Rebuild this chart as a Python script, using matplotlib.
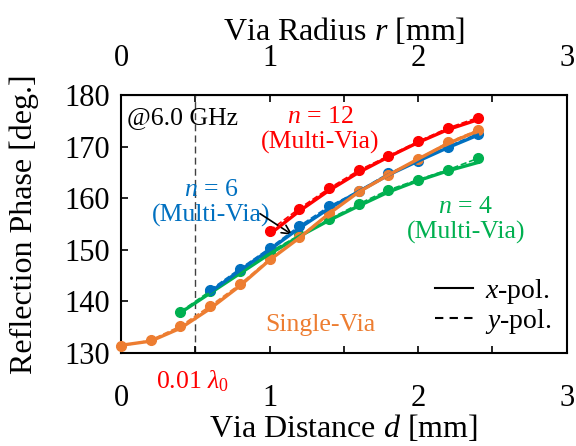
import matplotlib
matplotlib.use("Agg")
import matplotlib.pyplot as plt
from matplotlib.ticker import MultipleLocator
from matplotlib.lines import Line2D

plt.rcParams['font.family'] = ['Liberation Serif', 'DejaVu Serif']
plt.rcParams['mathtext.fontset'] = 'custom'
plt.rcParams['mathtext.rm'] = 'Liberation Serif'
plt.rcParams['mathtext.it'] = 'Liberation Serif:italic'

# ---- data ----
d_single = [0.0, 0.2, 0.4, 0.6, 0.8, 1.0, 1.2, 1.4, 1.6, 1.8, 2.0, 2.2, 2.4]
single_x = [131.5, 132.3, 134.8, 138.6, 143.0, 148.0, 152.3, 157.0, 161.2, 164.5, 167.6, 170.6, 173.0]
single_y = [131.3, 132.5, 135.2, 139.1, 143.3, 148.2, 152.4, 157.1, 161.4, 164.5, 167.6, 170.8, 173.2]

d_n4 = [0.4, 0.6, 0.8, 1.0, 1.2, 1.4, 1.6, 1.8, 2.0, 2.2, 2.4]
n4_x = [137.8, 141.6, 145.4, 149.2, 152.6, 155.7, 158.5, 161.2, 163.4, 165.3, 166.9]
n4_y = [138.0, 142.0, 145.8, 149.6, 152.8, 155.9, 158.9, 161.6, 163.6, 165.5, 167.7]

d_n6 = [0.6, 0.8, 1.0, 1.2, 1.4, 1.6, 1.8, 2.0, 2.2, 2.4]
n6_x = [141.8, 146.0, 150.0, 154.2, 158.0, 161.3, 164.5, 167.2, 169.8, 172.2]
n6_y = [142.2, 146.3, 150.3, 154.6, 158.4, 161.4, 164.8, 167.3, 170.0, 172.5]

d_n12 = [1.0, 1.2, 1.4, 1.6, 1.8, 2.0, 2.2, 2.4]
n12_x = [153.0, 157.5, 161.5, 165.0, 168.0, 170.8, 173.3, 175.2]
n12_y = [153.7, 158.0, 161.9, 165.4, 168.2, 171.0, 173.6, 175.6]

x_ticks = [0, 1, 2, 3]
y_ticks = [130, 140, 150, 160, 170, 180]

c_single = '#ED7D31'
c_n4 = '#00B050'
c_n6 = '#0070C0'
c_n12 = '#FF0000'

fig = plt.figure(figsize=(5.76, 4.46), dpi=100)
ax = fig.add_axes([0.210, 0.2085, 0.774, 0.5785])

series = [
    (d_n4, n4_x, n4_y, c_n4),
    (d_n6, n6_x, n6_y, c_n6),
    (d_single, single_x, single_y, c_single),
    (d_n12, n12_x, n12_y, c_n12),
]
for d, xs, ys, c in series:
    ax.plot(d, ys, linestyle='--', color=c, lw=1.2, marker='o', ms=7, clip_on=False, zorder=3)
    ax.plot(d, xs, linestyle='-', color=c, lw=2.4, zorder=4)

ax.axvline(0.5, color='#404040', lw=1.0, ls=(0, (5, 3)), zorder=1)

ax.set_xlim(0, 3)
ax.set_ylim(130, 180)
ax.set_xticks(x_ticks)
ax.set_yticks(y_ticks)
ax.xaxis.set_minor_locator(MultipleLocator(0.5))
ax.tick_params(axis='both', which='both', direction='in', length=5, width=1.2,
               labelsize=22, top=False, right=False)
ax.tick_params(axis='x', which='major', pad=22)
ax.tick_params(axis='y', which='major', pad=8)
for s in ax.spines.values():
    s.set_linewidth(1.5)

sec = ax.secondary_xaxis('top')
sec.set_xticks(x_ticks)
sec.xaxis.set_minor_locator(MultipleLocator(0.5))
sec.tick_params(axis='x', which='both', direction='in', length=5, width=1.2, labelsize=22, pad=15.5)
sec.set_xlabel('Via Radius $r$ [mm]', fontsize=23, labelpad=3)

ax.set_xlabel('Via Distance $d$ [mm]', fontsize=23, labelpad=0)
ax.set_ylabel('Reflection Phase [deg.]', fontsize=23, labelpad=18)

# annotations
fs = 18.5
ax.text(0.04, 175.5, '@6.0 GHz', fontsize=fs, ha='left', va='center')
ax.text(1.34, 175.8, '$n$ = 12', fontsize=fs, color=c_n12, ha='center', va='center')
ax.text(1.34, 170.8, '(Multi-Via)', fontsize=fs, color=c_n12, ha='center', va='center')
ax.text(0.61, 161.6, '$n$ = 6', fontsize=fs, color=c_n6, ha='center', va='center')
ax.text(0.61, 156.7, '(Multi-Via)', fontsize=fs, color=c_n6, ha='center', va='center')
ax.text(2.32, 158.3, '$n$ = 4', fontsize=fs, color=c_n4, ha='center', va='center')
ax.text(2.32, 153.3, '(Multi-Via)', fontsize=fs, color=c_n4, ha='center', va='center')
ax.text(1.34, 135.4, 'Single-Via', fontsize=fs, color=c_single, ha='center', va='center')
ax.annotate('', xy=(1.17, 152.6), xytext=(0.92, 157.3),
            arrowprops=dict(arrowstyle='->', color='black', lw=1.2, mutation_scale=16))
ax.text(0.48, 124.5, '0.01 $\\lambda_0$', fontsize=fs, color=c_n12, ha='center', va='center',
        clip_on=False)

# legend for polarisation
h = [Line2D([], [], color='black', lw=1.5, ls='-'),
     Line2D([], [], color='black', lw=1.5, ls=(0, (4, 3)))]
leg = ax.legend(h, ['$x$-pol.', '$y$-pol.'], loc='lower right', frameon=False, fontsize=20,
                handlelength=1.37, handletextpad=0.43, labelspacing=0.05,
                bbox_to_anchor=(1.01, -0.01), borderaxespad=0.3)

fig.savefig('out.png', dpi=100)
